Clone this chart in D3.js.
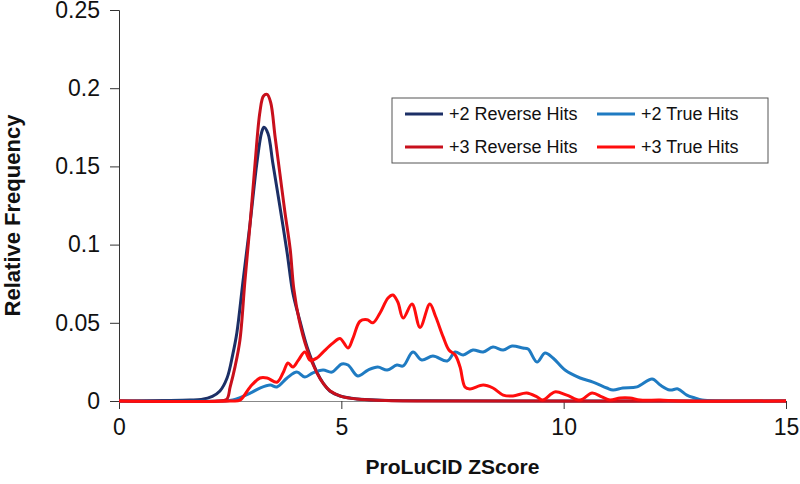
<!DOCTYPE html>
<html>
<head>
<meta charset="utf-8">
<script src="https://cdn.jsdelivr.net/npm/d3@7"></script>
<style>
  body { margin: 0; background: #fff; }
  text { font-family: "Liberation Sans", Arial, sans-serif; }
</style>
</head>
<body>
<div id="chart"></div>
<script>
// ---- data (ZScore -> relative frequency) ----
const rev2X = [0, 1.0, 1.6, 1.85, 2.1, 2.27, 2.43, 2.56, 2.65, 2.79, 2.95, 3.1, 3.21, 3.26, 3.35, 3.46, 3.62, 3.78, 3.91, 4.07, 4.23, 4.45, 4.59, 4.74, 4.97, 5.35, 5.9, 6.8, 15];
const rev2Y = [0, 0.0003, 0.0006, 0.001, 0.003, 0.0064, 0.0147, 0.030, 0.0435, 0.077, 0.114, 0.152, 0.172, 0.175, 0.171, 0.152, 0.124, 0.095, 0.069, 0.051, 0.0345, 0.0185, 0.0115, 0.0064, 0.0032, 0.0013, 0.0005, 0.0001, 0];

const true2X = [0, 2.3, 2.56, 2.95, 3.17, 3.4, 3.55, 3.78, 4.0, 4.18, 4.36, 4.59, 4.79, 5.01, 5.15, 5.37, 5.6, 5.82, 6.03, 6.25, 6.39, 6.61, 6.81, 7.06, 7.38, 7.56, 7.74, 7.96, 8.19, 8.41, 8.64, 8.84, 9.08, 9.2, 9.4, 9.58, 9.76, 10.03, 10.37, 10.66, 10.97, 11.11, 11.33, 11.65, 11.99, 12.17, 12.39, 12.57, 12.77, 12.95, 13.11, 13.5, 15];
const true2Y = [0, 0, 0.0006, 0.005, 0.0083, 0.0102, 0.009, 0.0147, 0.0185, 0.0153, 0.018, 0.0198, 0.0185, 0.0237, 0.023, 0.016, 0.0198, 0.0217, 0.0198, 0.023, 0.0224, 0.0313, 0.0262, 0.0288, 0.0256, 0.0313, 0.0294, 0.0326, 0.0313, 0.0345, 0.0326, 0.0352, 0.0339, 0.0332, 0.0249, 0.0307, 0.0275, 0.0198, 0.0147, 0.0121, 0.0083, 0.007, 0.0083, 0.009, 0.0141, 0.0102, 0.007, 0.0077, 0.0038, 0.0019, 0.0006, 0, 0];

const rev3X = [0, 2.2, 2.42, 2.5, 2.61, 2.72, 2.83, 2.95, 3.06, 3.17, 3.25, 3.33, 3.41, 3.51, 3.62, 3.73, 3.85, 3.93, 4.05, 4.23, 4.45, 4.6, 4.75, 5.0, 5.35, 6.0, 7.0, 15];
const rev3Y = [0, 0, 0.001, 0.009, 0.022, 0.039, 0.076, 0.114, 0.152, 0.185, 0.195, 0.196, 0.191, 0.169, 0.145, 0.121, 0.097, 0.072, 0.052, 0.033, 0.018, 0.011, 0.0064, 0.003, 0.0013, 0.0003, 0, 0];

const true3X = [0, 2.5, 2.72, 2.95, 3.17, 3.33, 3.55, 3.69, 3.8, 3.91, 4.03, 4.18, 4.3, 4.45, 4.59, 4.81, 4.97, 5.15, 5.26, 5.42, 5.58, 5.71, 5.87, 6.05, 6.16, 6.27, 6.39, 6.59, 6.77, 6.99, 7.12, 7.29, 7.42, 7.56, 7.67, 7.78, 7.89, 8.19, 8.41, 8.64, 8.86, 9.17, 9.4, 9.53, 9.8, 10.07, 10.37, 10.64, 10.86, 11.04, 11.27, 11.49, 11.72, 12.17, 12.6, 15];
const true3Y = [0, 0, 0.0006, 0.009, 0.0147, 0.0147, 0.012, 0.018, 0.0243, 0.0217, 0.026, 0.0313, 0.026, 0.0275, 0.0313, 0.037, 0.040, 0.0339, 0.040, 0.051, 0.052, 0.050, 0.0563, 0.0659, 0.0678, 0.0633, 0.053, 0.062, 0.047, 0.062, 0.054, 0.041, 0.0326, 0.0294, 0.0217, 0.009, 0.0077, 0.0102, 0.0083, 0.0038, 0.0032, 0.0051, 0.0026, 0.0006, 0.0058, 0.0038, 0.0006, 0.0051, 0.0026, 0.0006, 0.0019, 0.0019, 0.0006, 0.0006, 0, 0];

const seriesNames = ["+2 Reverse Hits", "+2 True Hits", "+3 Reverse Hits", "+3 True Hits"];
const seriesColors = ["#1c2f66", "#1f7bc2", "#c8101c", "#ff0d0d"];
const xTicks = [0, 5, 10, 15];
const yTicks = [0, 0.05, 0.1, 0.15, 0.2, 0.25];

const series = [
  {name: seriesNames[0], xs: rev2X, ys: rev2Y, color: seriesColors[0]},
  {name: seriesNames[1], xs: true2X, ys: true2Y, color: seriesColors[1]},
  {name: seriesNames[2], xs: rev3X, ys: rev3Y, color: seriesColors[2]},
  {name: seriesNames[3], xs: true3X, ys: true3Y, color: seriesColors[3]}
];

// ---- layout ----
const margin = {top: 10, right: 14, bottom: 83, left: 119};
const width = 800 - margin.left - margin.right;
const height = 484 - margin.top - margin.bottom;

const svg = d3.select("#chart")
  .append("svg")
  .attr("width", 800)
  .attr("height", 484)
  .append("g")
  .attr("transform", `translate(${margin.left},${margin.top})`);

const x = d3.scaleLinear().domain([0, 15]).range([0, width]);
const y = d3.scaleLinear().domain([0, 0.25]).range([height, 0]);

// y axis
const yAxis = svg.append("g")
  .call(d3.axisLeft(y).tickValues(yTicks).tickSize(9).tickPadding(10)
    .tickFormat(d => d === 0 ? "0" : String(+d.toFixed(2))));
yAxis.select(".domain").attr("stroke", "#333");
yAxis.selectAll(".tick line").attr("stroke", "#333");
yAxis.selectAll("text").attr("font-size", 23).attr("fill", "#111")
  .style("font-family", "'Liberation Sans', Arial, sans-serif");

// x axis
const xAxis = svg.append("g")
  .attr("transform", `translate(0,${height})`)
  .call(d3.axisBottom(x).tickValues(xTicks).tickSize(8).tickSizeOuter(0).tickPadding(10));
xAxis.select(".domain").attr("stroke", "#888");
xAxis.selectAll(".tick line").attr("stroke", "#333");
xAxis.selectAll("text").attr("font-size", 23).attr("fill", "#111")
  .style("font-family", "'Liberation Sans', Arial, sans-serif");

// axis titles
svg.append("text")
  .attr("x", width / 2)
  .attr("y", height + 73)
  .attr("text-anchor", "middle")
  .attr("font-size", 21)
  .attr("font-weight", "bold")
  .attr("fill", "#111")
  .text("ProLuCID ZScore");

svg.append("text")
  .attr("transform", "rotate(-90)")
  .attr("x", -height / 2 - 10)
  .attr("y", -margin.left + 20)
  .attr("text-anchor", "middle")
  .attr("font-size", 22)
  .attr("font-weight", "bold")
  .attr("fill", "#111")
  .text("Relative Frequency");

// lines
const line = d3.line()
  .x(d => x(d[0]))
  .y(d => y(d[1]))
  .curve(d3.curveCatmullRom.alpha(0.5));

series.forEach(s => {
  svg.append("path")
    .datum(s.xs.map((v, i) => [v, s.ys[i]]))
    .attr("fill", "none")
    .attr("stroke", s.color)
    .attr("stroke-width", 3)
    .attr("stroke-linejoin", "round")
    .attr("d", line);
});

// legend
const legend = svg.append("g")
  .attr("transform", `translate(${392 - margin.left},${98 - margin.top})`);

legend.append("rect")
  .attr("width", 376)
  .attr("height", 65)
  .attr("fill", "#fff")
  .attr("stroke", "#555")
  .attr("stroke-width", 1);

series.forEach((s, i) => {
  const col = i % 2, row = Math.floor(i / 2);
  const g = legend.append("g")
    .attr("transform", `translate(${13 + col * 192},${16 + row * 33})`);
  g.append("line")
    .attr("x1", 0).attr("x2", 38)
    .attr("stroke", s.color)
    .attr("stroke-width", 3);
  g.append("text")
    .attr("x", 44)
    .attr("y", 6)
    .attr("font-size", 18)
    .attr("fill", "#111")
    .text(s.name);
});
</script>
</body>
</html>
